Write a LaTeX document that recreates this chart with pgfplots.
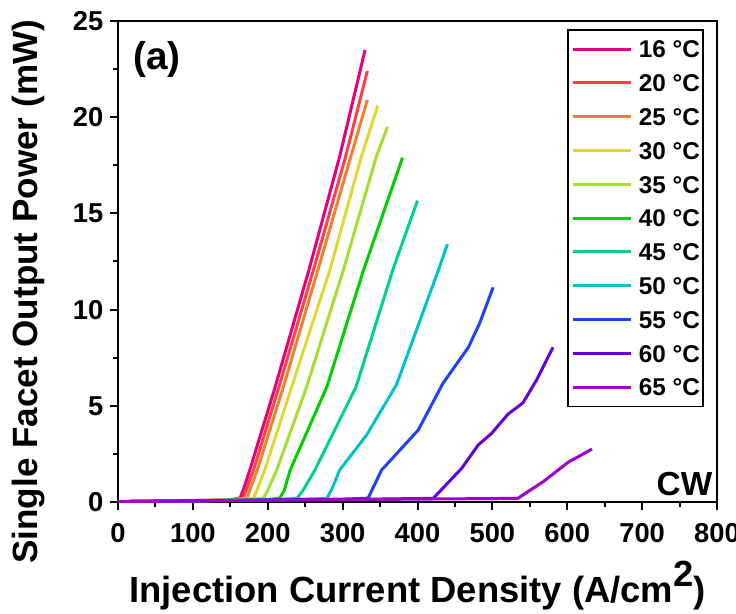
\documentclass[border=0pt]{standalone}
\usepackage{fontspec}
\setmainfont{Liberation Sans}
\usepackage{pgfplots}
\pgfplotsset{compat=1.18}
\definecolor{c16}{HTML}{E6007E}
\definecolor{c20}{HTML}{FF4040}
\definecolor{c25}{HTML}{F08030}
\definecolor{c30}{HTML}{E0D830}
\definecolor{c35}{HTML}{A0E030}
\definecolor{c40}{HTML}{00D000}
\definecolor{c45}{HTML}{00D090}
\definecolor{c50}{HTML}{00C4C8}
\definecolor{c55}{HTML}{2040FF}
\definecolor{c60}{HTML}{6400DC}
\definecolor{c65}{HTML}{A000CC}
\begin{document}
\begin{tikzpicture}
\begin{axis}[
  scale only axis, width=449.25pt, height=360.75pt,
  xmin=0, xmax=800, ymin=0, ymax=25,
  xtick={0,100,...,800}, ytick={0,5,...,25},
  minor x tick num=1, minor y tick num=1,
  tick align=outside, xtick pos=bottom, ytick pos=left,
  major tick length=6pt, minor tick length=3.5pt,
  axis line style={line width=1.5pt},
  every tick/.style={black, line width=1.5pt},
  /pgf/number format/assume math mode=true,
  tick label style={font=\fontsize{20.5}{21}\selectfont\bfseries},
  xticklabel style={yshift=-6.5pt},
  yticklabel style={xshift=-1.5pt},
  xlabel style={font=\fontsize{27.3}{29}\selectfont\bfseries, at={(rel axis cs:0.5,-0.208)}, anchor=base},
  ylabel style={font=\fontsize{26.3}{28}\selectfont\bfseries, at={(rel axis cs:-0.150,0.437)}, anchor=center},
  xlabel={Injection Current Density (A/cm\raisebox{0.42em}{2})},
  ylabel={Single Facet Output Power (mW)},
  legend style={at={(rel axis cs:0.978,0.983)}, anchor=north east, draw=black, line width=1pt,
    font=\fontsize{18.2}{18}\selectfont\bfseries,
    nodes={inner sep=0pt, text height=13pt, text depth=0pt},
    row sep=12.35pt, column sep=5pt, inner xsep=2.5pt, inner ysep=8pt},
  legend cell align=left,
  legend image code/.code={\draw[#1] (0pt,0pt) -- (43.5pt,0pt);},
  every axis plot/.append style={line width=2.25pt, line join=round},
]
\addplot[c16] coordinates {(0,0.02)(100,0.07)(150,0.12)(163,0.2)(168,0.7)(176,1.66)(210,5.99)(255,12.06)(296,17.95)(330,23.5)};
\addlegendentry{16 °C}
\addplot[c20] coordinates {(0,0.02)(100,0.07)(150,0.11)(167,0.2)(172,0.7)(181,1.66)(215,5.99)(261,12.06)(304,17.95)(333,22.4)};
\addlegendentry{20 °C}
\addplot[c25] coordinates {(0,0.02)(100,0.07)(150,0.11)(172,0.18)(177,0.7)(186,1.66)(221,5.99)(267,12.06)(311,17.95)(333,20.9)};
\addlegendentry{25 °C}
\addplot[c30] coordinates {(0,0.02)(100,0.06)(150,0.1)(181,0.18)(186,0.65)(196,1.66)(232,5.99)(283,12.06)(325,17.95)(347,20.6)};
\addlegendentry{30 °C}
\addplot[c35] coordinates {(0,0.02)(100,0.06)(150,0.1)(194,0.18)(200,0.6)(212,1.66)(252,5.99)(301,12.06)(345,17.95)(360,19.5)};
\addlegendentry{35 °C}
\addplot[c40] coordinates {(0,0.02)(100,0.06)(200,0.13)(216,0.2)(222,0.6)(230,1.66)(279,5.99)(328,12.06)(380,17.9)};
\addlegendentry{40 °C}
\addplot[c45] coordinates {(0,0.02)(100,0.06)(200,0.12)(239,0.18)(247,0.6)(263,1.66)(318,5.99)(367,12.06)(381,13.6)(400,15.66)};
\addlegendentry{45 °C}
\addplot[c50] coordinates {(0,0.02)(100,0.06)(200,0.11)(279,0.18)(286,0.7)(296,1.66)(332,3.48)(372,6.1)(428,12.06)(440,13.4)};
\addlegendentry{50 °C}
\addplot[c55] coordinates {(0,0.02)(100,0.06)(200,0.1)(300,0.15)(334,0.2)(352,1.66)(401,3.74)(434,6.17)(468,8.04)(483,9.29)(501,11.16)};
\addlegendentry{55 °C}
\addplot[c60] coordinates {(0,0.02)(200,0.1)(300,0.13)(421,0.19)(459,1.75)(481,2.96)(499,3.57)(521,4.57)(541,5.16)(559,6.34)(581,8.04)};
\addlegendentry{60 °C}
\addplot[c65] coordinates {(0,0.02)(200,0.09)(400,0.15)(534,0.19)(568,1.06)(601,2.06)(633,2.75)};
\addlegendentry{65 °C}
\node[font=\fontsize{29}{31}\selectfont\bfseries] at (axis cs:52,23.0) {(a)};
\node[anchor=base east, font=\fontsize{25}{28}\selectfont\bfseries, inner sep=0pt] at (axis cs:794,0.36) {CW};
\coordinate (SW) at (rel axis cs:0,0);
\coordinate (NE) at (rel axis cs:1,1);
\end{axis}
\pgfresetboundingbox
\path[use as bounding box] ([shift={(-88.5pt,-83.25pt)}]SW) rectangle ([shift={(14.25pt,15.75pt)}]NE);
\end{tikzpicture}
\end{document}
